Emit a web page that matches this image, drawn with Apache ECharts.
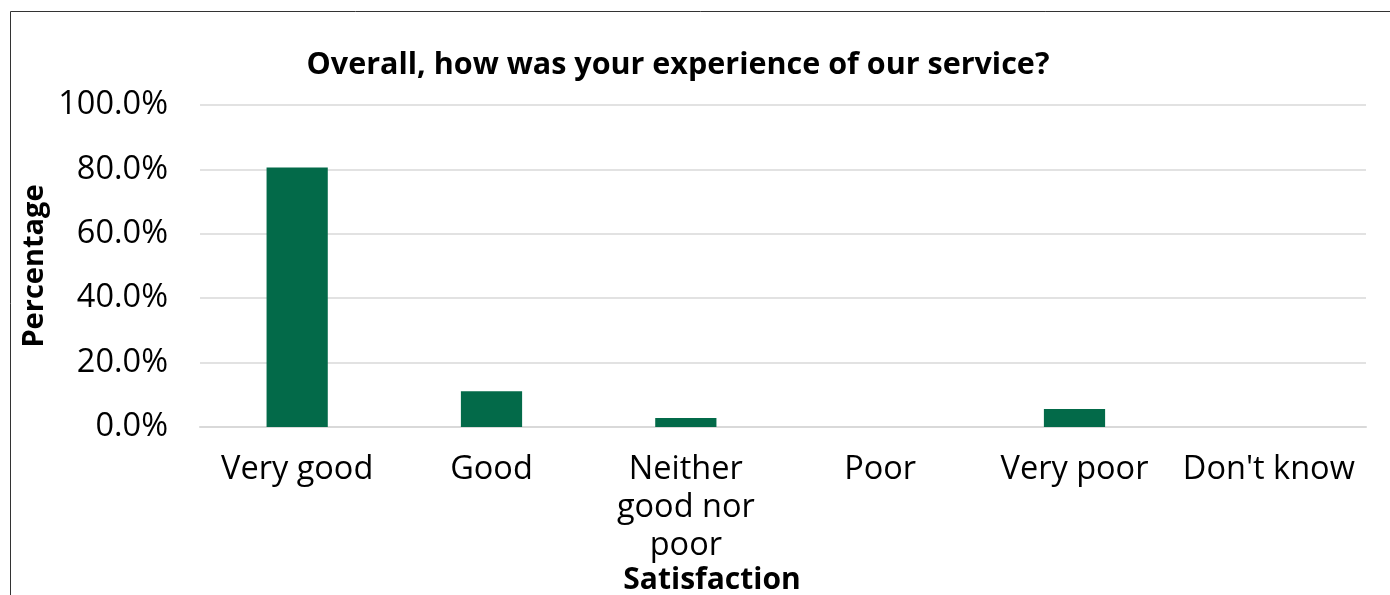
<!DOCTYPE html>
<html>
<head>
<meta charset="utf-8">
<script src="https://cdn.jsdelivr.net/npm/echarts@6/dist/echarts.min.js"></script>
<style>
  html, body { margin: 0; padding: 0; background: #fff; overflow: hidden; }
  #main { width: 1390px; height: 595px; }
</style>
</head>
<body>
<div id="main"></div>
<script>
// 数据
var categories = ['Very good', 'Good', 'Neither\ngood nor\npoor', 'Poor', 'Very poor', "Don't know"]
var percentages = [80.6, 11.1, 2.8, 0, 5.6, 0]
var yTicks = [0, 20, 40, 60, 80, 100]

var font = '"Open Sans", "Noto Sans", sans-serif'
var myChart = echarts.init(document.getElementById('main'))

var option = {
  animation: false,
  backgroundColor: '#fff',
  title: {
    text: 'Overall, how was your experience of our service?',
    left: 673,
    top: 45,
    textAlign: 'center',
    textStyle: { fontFamily: font, fontWeight: 'bold', fontSize: 30.5, color: '#000' },
  },
  graphic: [
    // 外框（只露出上边和左边）
    {
      type: 'polyline',
      shape: { points: [[10.5, 600], [10.5, 11.5], [1400, 11.5]] },
      style: { fill: null, stroke: '#333', lineWidth: 1 },
      silent: true,
    },
    {
      type: 'text',
      x: 35,
      y: 266,
      rotation: Math.PI / 2,
      style: {
        text: 'Percentage',
        font: 'bold 29px ' + font,
        fill: '#000',
        align: 'center',
        verticalAlign: 'middle',
      },
    },
    {
      type: 'text',
      x: 712,
      y: 580,
      style: {
        text: 'Satisfaction',
        font: 'bold 30px ' + font,
        fill: '#000',
        align: 'center',
        verticalAlign: 'middle',
      },
    },
  ],
  grid: { left: 200, right: 24, top: 105, bottom: 168, containLabel: false },
  xAxis: {
    type: 'category',
    data: categories,
    axisTick: { show: false },
    axisLine: { lineStyle: { color: '#d9d9d9', width: 2 } },
    axisLabel: {
      interval: 0,
      margin: 24,
      color: '#000',
      fontFamily: font,
      fontSize: 32.5,
      lineHeight: 38,
      align: 'center',
    },
  },
  yAxis: {
    type: 'value',
    min: yTicks[0],
    max: yTicks[yTicks.length - 1],
    interval: yTicks[1] - yTicks[0],
    axisLine: { show: false },
    axisTick: { show: false },
    splitLine: { lineStyle: { color: '#d9d9d9', width: 1.5 } },
    axisLabel: {
      margin: 32,
      color: '#000',
      fontFamily: font,
      fontSize: 32.5,
      formatter: function (v) { return v.toFixed(1) + '%' },
    },
  },
  series: [
    {
      type: 'bar',
      data: percentages,
      barWidth: '31.5%',
      itemStyle: { color: '#036A49' },
    },
  ],
}
myChart.setOption(option)
</script>
</body>
</html>
